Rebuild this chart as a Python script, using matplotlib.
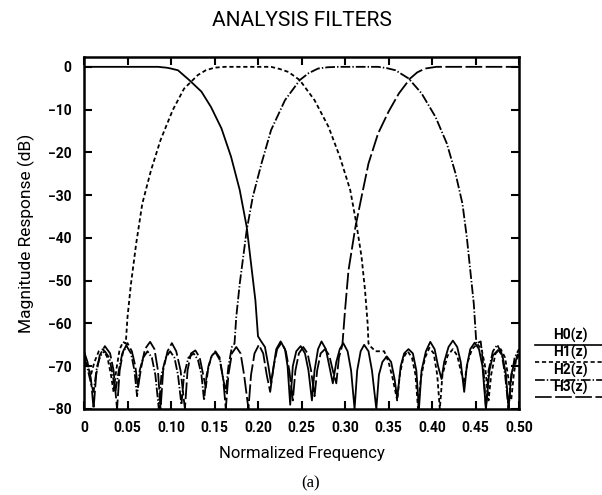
import matplotlib
matplotlib.use('Agg')
import matplotlib.pyplot as plt
from matplotlib.lines import Line2D

# magnitude responses of the four analysis filters, read as (frequency, dB) pairs
h0_freq = [0, 0.05, 0.085, 0.095, 0.100, 0.108, 0.121, 0.135, 0.146, 0.158, 0.169, 0.179, 0.187, 0.192, 0.197, 0.200,
           0.204, 0.208, 0.212, 0.215, 0.218, 0.221, 0.226, 0.231, 0.234, 0.237, 0.240, 0.244, 0.249, 0.254, 0.258,
           0.262, 0.265, 0.269, 0.273, 0.278, 0.282, 0.286, 0.290, 0.294, 0.298, 0.303, 0.307, 0.311, 0.314, 0.318,
           0.322, 0.327, 0.331, 0.336, 0.339, 0.343, 0.348, 0.353, 0.357, 0.360, 0.364, 0.368, 0.373, 0.378, 0.382,
           0.385, 0.388, 0.393, 0.398, 0.403, 0.407, 0.411, 0.414, 0.419, 0.424, 0.429, 0.433, 0.437, 0.440, 0.444,
           0.449, 0.454, 0.458, 0.462, 0.466, 0.470, 0.476, 0.481, 0.485, 0.488, 0.491, 0.495, 0.500]
h0_db = [0, 0, 0, -0.2, -0.4, -0.8, -3.1, -5.8, -9.4, -14.4, -21, -28.8, -37.4, -46, -54.6, -63,
         -64.3, -65.5, -70, -74, -70, -66, -64.2, -66, -70, -79, -70, -66.5, -65.3, -67, -71,
         -78, -71, -66, -64.2, -66, -70, -74, -69, -66, -64.6, -66.5, -71, -80, -71, -66.5,
         -65, -66.5, -71, -80, -72, -69, -67.7, -69, -73, -77.5, -70, -67, -66, -67, -71,
         -80, -71, -66.5, -64.3, -66, -70, -73, -69, -65.5, -64, -65.5, -69, -76, -70, -66,
         -64.5, -66, -70, -80, -71, -67.5, -66.2, -67.5, -72, -80, -72, -69, -67.5]

h1_freq = [0, 0.004, 0.008, 0.012, 0.017, 0.022, 0.027, 0.031, 0.034, 0.037, 0.041, 0.045, 0.048,
           0.050, 0.054, 0.060, 0.067, 0.077, 0.088, 0.102, 0.115, 0.131, 0.140, 0.150, 0.162,
           0.215, 0.225, 0.235, 0.248, 0.265, 0.281, 0.294, 0.306, 0.313, 0.319, 0.323, 0.326,
           0.327, 0.330, 0.335, 0.340, 0.345, 0.350, 0.355, 0.360, 0.363, 0.367, 0.372, 0.377, 0.381, 0.384,
           0.387, 0.392, 0.397, 0.402, 0.406, 0.409, 0.412, 0.418, 0.424, 0.429, 0.433, 0.437, 0.441, 0.446,
           0.452, 0.457, 0.461, 0.465, 0.468, 0.473, 0.479, 0.484, 0.488, 0.491, 0.494, 0.497, 0.500]
h1_db = [-67.5, -70, -72, -69, -66.5, -66, -68, -72, -76, -71, -66, -64.3, -64.7,
         -58.5, -50.7, -41.3, -32, -24.2, -17.1, -10.1, -5.1, -1.9, -0.8, -0.2, 0,
         0, -0.5, -1.2, -3.1, -7.8, -14, -21, -28.8, -36.6, -44.4, -52.2, -60,
         -64.7, -65.5, -66.5, -66.5, -66.5, -69, -73, -78, -72, -68, -66.5, -68, -72, -80,
         -73, -68, -65.7, -67, -72, -80, -72, -67.5, -66, -67.5, -71, -74, -69, -66,
         -64.8, -66, -70, -78, -72, -67, -66, -68, -73, -78, -72, -68, -66.5]

h2_freq = [0, 0.004, 0.008, 0.011, 0.015, 0.019, 0.024, 0.029, 0.033, 0.036, 0.040, 0.044, 0.049, 0.054,
           0.058, 0.061, 0.064, 0.068, 0.073, 0.078, 0.082, 0.086, 0.089, 0.094, 0.099, 0.104, 0.108, 0.112,
           0.115, 0.120, 0.126, 0.131, 0.135, 0.138, 0.141, 0.146, 0.151, 0.156, 0.160, 0.163, 0.166, 0.170,
           0.173, 0.175, 0.179, 0.187, 0.194, 0.204, 0.215, 0.231, 0.248, 0.258, 0.269, 0.280, 0.292,
           0.338, 0.348, 0.358, 0.373, 0.388, 0.404, 0.417, 0.427, 0.435, 0.440, 0.444, 0.448, 0.451,
           0.456, 0.459, 0.462, 0.465, 0.470, 0.475, 0.480, 0.484, 0.488, 0.491, 0.495, 0.500]
h2_db = [-68, -70.5, -74, -76, -70, -67.5, -66.5, -68, -72, -76, -71, -67, -65.3, -67,
         -71, -77, -71, -68, -66.5, -68, -72, -80, -72, -68, -66.5, -68, -72, -79,
         -72, -68, -67, -68.5, -72, -78, -72, -68, -66.5, -68, -73, -76, -70, -65.5,
         -64.7, -58.5, -50.7, -38.2, -30.4, -22.6, -14.8, -7.8, -3.1, -1.5, -0.4, -0.1, 0,
         0, -0.3, -0.8, -2.7, -6.2, -11.7, -17.9, -24.9, -32, -39.8, -47.6, -55.3, -64.7,
         -64.2, -70, -80, -71, -66.5, -65, -67, -72, -80, -73, -68, -66]

h3_freq = [0, 0.004, 0.008, 0.011, 0.014, 0.018, 0.024, 0.030, 0.034, 0.038, 0.041, 0.045, 0.050, 0.055,
           0.059, 0.062, 0.066, 0.070, 0.076, 0.081, 0.085, 0.088, 0.091, 0.096, 0.101, 0.106, 0.111, 0.116,
           0.119, 0.123, 0.128, 0.133, 0.137, 0.140, 0.143, 0.147, 0.151, 0.156, 0.160, 0.163, 0.166, 0.170,
           0.175, 0.180, 0.184, 0.189, 0.192, 0.196, 0.201, 0.206, 0.210, 0.214, 0.218, 0.222, 0.227, 0.232,
           0.236, 0.240, 0.243, 0.247, 0.252, 0.257, 0.261, 0.265, 0.268, 0.272, 0.277, 0.282, 0.286, 0.290,
           0.293, 0.297, 0.300, 0.304, 0.312, 0.319, 0.327, 0.338, 0.350, 0.362, 0.375, 0.383, 0.392,
           0.405, 0.450, 0.500]
h3_db = [-66.5, -69, -73, -80, -72, -67.5, -65.3, -67, -71, -80, -71, -66.5, -64.6, -66.5,
         -70, -75, -70, -66, -64.3, -66, -71, -80, -71, -66.5, -64.6, -66.5, -71, -80,
         -71, -67, -66.3, -68, -72, -75, -70, -67.5, -66.7, -68.5, -73, -80, -72, -67,
         -65.5, -67, -72, -80, -72, -67, -65, -67, -72, -76, -70, -66, -64.5, -66.5,
         -71, -78, -71, -67, -65.5, -67, -71, -77, -71, -67, -66, -67.5, -71, -74,
         -68, -65, -57, -47.6, -37.4, -30.4, -22.6, -15.6, -10.5, -6.2, -2.7, -1.3, -0.4,
         0, 0, 0]

filter_names = ['H0(z)', 'H1(z)', 'H2(z)', 'H3(z)']
x_ticks = [0, 0.05, 0.10, 0.15, 0.20, 0.25, 0.30, 0.35, 0.40, 0.45, 0.50]
x_tick_labels = ['0', '0.05', '0.10', '0.15', '0.20', '0.25', '0.30', '0.35', '0.40', '0.45', '0.50']
y_ticks = [0, -10, -20, -30, -40, -50, -60, -70, -80]

plt.rcParams['font.family'] = ['Roboto', 'DejaVu Sans']
plt.rcParams['lines.scale_dashes'] = False

styles = [dict(linestyle='-'),
          dict(dashes=(3, 2)),
          dict(dashes=(7, 1.5, 1, 1.5)),
          dict(dashes=(12, 2.5))]

fig = plt.figure(figsize=(6.02, 4.95), dpi=100)
ax = fig.add_axes([84 / 602, 1 - 409 / 495, 435 / 602, 352 / 495])

curves = [(h0_freq, h0_db), (h1_freq, h1_db), (h2_freq, h2_db), (h3_freq, h3_db)]
for (f, db), st in zip(curves, styles):
    ax.plot(f, db, color='black', lw=1.3, **st)

ax.set_xlim(0, 0.5)
ax.set_ylim(-80, 2.3)
ax.set_xticks(x_ticks)
ax.set_xticklabels(x_tick_labels)
ax.set_yticks(y_ticks)
ax.tick_params(direction='in', length=6, width=1.5, top=True, right=True,
               labelsize=10, pad=9)
for lab in ax.get_xticklabels() + ax.get_yticklabels():
    lab.set_fontweight('bold')
for sp in ax.spines.values():
    sp.set_linewidth(1.8)

ax.set_title('ANALYSIS FILTERS', fontsize=15, pad=22)
ax.set_xlabel('Normalized Frequency', fontsize=12)
ax.set_ylabel('Magnitude Response (dB)', fontsize=12.5)
ax.xaxis.set_label_coords(0.5, -0.105)
ax.yaxis.set_label_coords(-0.112, 0.5)

# line key drawn outside the frame on the right
for i, (name, st) in enumerate(zip(filter_names, styles)):
    yk = 1 - (345 + 17.3 * i) / 495
    fig.add_artist(Line2D([535 / 602, 1.0], [yk, yk], color='black', lw=1.2, **st))
    fig.text(570 / 602, yk + 2 / 495, name, ha='center', va='bottom', fontsize=10, fontweight='bold')

fig.text(311 / 602, 1 - 483 / 495, '(a)', ha='center', va='center', fontsize=12,
         family='Liberation Serif')

fig.savefig('out.png', dpi=100)
